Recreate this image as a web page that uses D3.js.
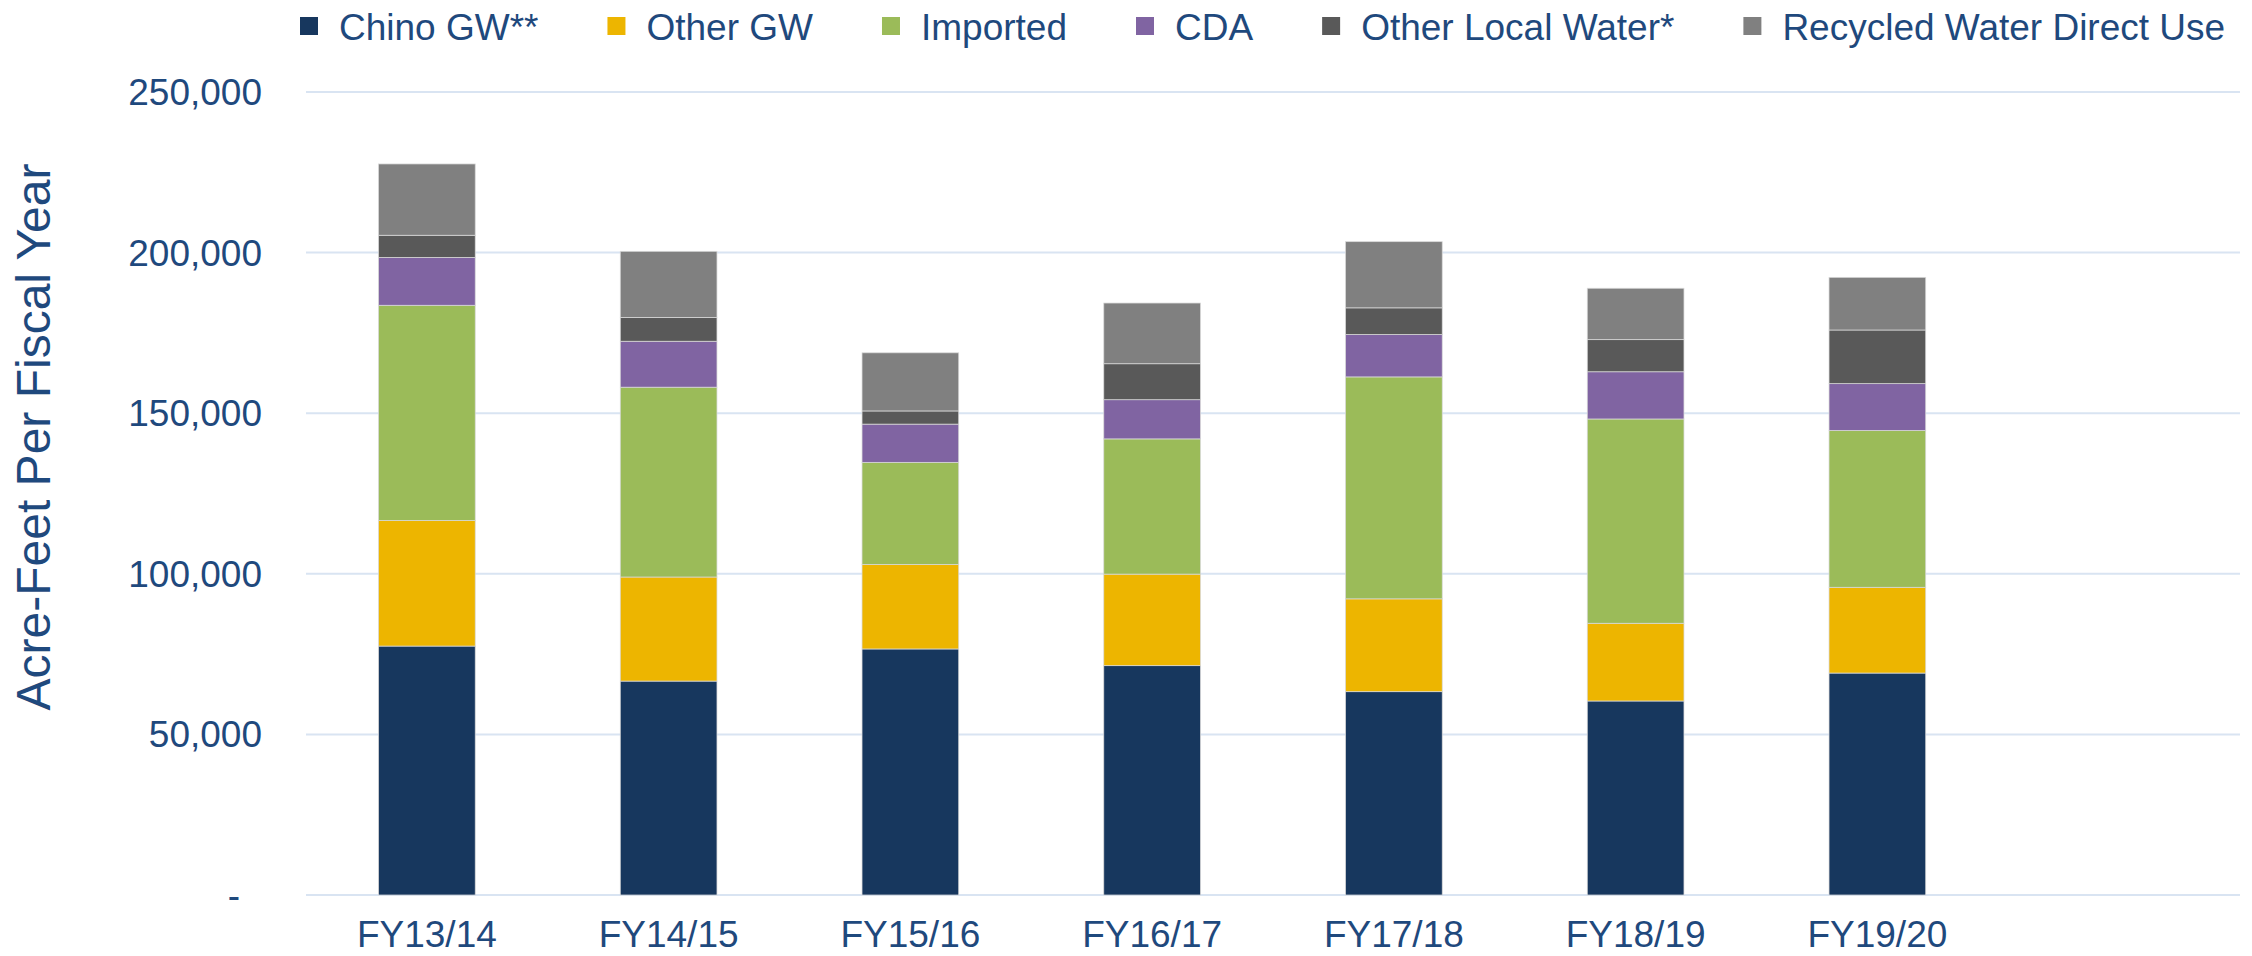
<!DOCTYPE html>
<html>
<head>
<meta charset="utf-8">
<script src="https://cdn.jsdelivr.net/npm/d3@7"></script>
<style>
  html, body { margin: 0; padding: 0; background: #ffffff; }
  svg { display: block; font-family: Arial, "Liberation Sans", sans-serif; }
</style>
</head>
<body>
<svg id="chart" width="2252" height="956"></svg>
<script>
// ---- Data ----
const categories = ["FY13/14", "FY14/15", "FY15/16", "FY16/17", "FY17/18", "FY18/19", "FY19/20"];
const seriesNames = ["Chino GW**", "Other GW", "Imported", "CDA", "Other Local Water*", "Recycled Water Direct Use"];
const seriesColors = ["#17375E", "#EDB500", "#9BBB59", "#8064A2", "#595959", "#808080"];
const chinoGW    = [77500, 66600, 76600, 71400, 63300, 60400, 69100];
const otherGW    = [39100, 32400, 26300, 28500, 28900, 24200, 26700];
const imported   = [67000, 59100, 31800, 42100, 69100, 63600, 48800];
const cda        = [14900, 14300, 11900, 12200, 13200, 14700, 14600];
const otherLocal = [6900, 7400, 4100, 11200, 8300, 10000, 16700];
const recycled   = [22200, 20600, 18100, 18900, 20600, 16000, 16400];
const yTicks = [0, 50000, 100000, 150000, 200000, 250000];
const yTitle = "Acre-Feet Per Fiscal Year";

const seriesValues = [chinoGW, otherGW, imported, cda, otherLocal, recycled];
const rows = categories.map((c, i) => {
  const r = { category: c };
  seriesNames.forEach((s, j) => { r[s] = seriesValues[j][i]; });
  return r;
});

// ---- Layout ----
const textColor = "#1F497D";
const gridColor = "#D9E4F2";
const plotLeft = 306, plotRight = 2240, plotTop = 92, plotBottom = 895;
const svg = d3.select("#chart");

const x = d3.scaleBand()
  .domain(categories)
  .range([plotLeft, plotLeft + 7 * 241.75])
  .paddingInner(0.6)
  .paddingOuter(0.3);

const y = d3.scaleLinear().domain([0, 250000]).range([plotBottom, plotTop]);

// gridlines
svg.append("g").selectAll("line").data(yTicks).join("line")
  .attr("x1", plotLeft).attr("x2", plotRight)
  .attr("y1", d => y(d)).attr("y2", d => y(d))
  .attr("stroke", gridColor).attr("stroke-width", 2);

// y axis labels
const fmt = d3.format(",");
svg.append("g").selectAll("text").data(yTicks).join("text")
  .attr("x", d => d === 0 ? 240 : 262)
  .attr("y", d => y(d))
  .attr("dy", "0.35em")
  .attr("text-anchor", "end")
  .attr("fill", textColor)
  .attr("font-size", 37)
  .text(d => d === 0 ? "-" : fmt(d));

// y title
svg.append("text")
  .attr("transform", `translate(50,437) rotate(-90)`)
  .attr("text-anchor", "middle")
  .attr("fill", textColor)
  .attr("font-size", 48)
  .text(yTitle);

// stacked bars
const stack = d3.stack().keys(seriesNames);
const stacked = stack(rows);
const color = d3.scaleOrdinal().domain(seriesNames).range(seriesColors);

svg.append("g").selectAll("g").data(stacked).join("g")
  .attr("fill", d => color(d.key))
  .selectAll("rect").data(d => d).join("rect")
  .attr("x", d => x(d.data.category))
  .attr("width", x.bandwidth())
  .attr("y", d => y(d[1]))
  .attr("height", d => y(d[0]) - y(d[1]))
  .attr("stroke", "#D9D9D9")
  .attr("stroke-width", 0.75);

// x labels
svg.append("g").selectAll("text").data(categories).join("text")
  .attr("x", d => x(d) + x.bandwidth() / 2)
  .attr("y", 947)
  .attr("text-anchor", "middle")
  .attr("fill", textColor)
  .attr("font-size", 37)
  .text(d => d);

// legend
const legend = svg.append("g");
let lx = 300;
seriesNames.forEach((s, i) => {
  legend.append("rect")
    .attr("x", lx).attr("y", 17)
    .attr("width", 18).attr("height", 18)
    .attr("fill", seriesColors[i]);
  const t = legend.append("text")
    .attr("x", lx + 39).attr("y", 39.5)
    .attr("fill", textColor)
    .attr("font-size", 37)
    .text(s);
  const w = t.node().getComputedTextLength();
  lx = lx + 39 + w + 69;
});
</script>
</body>
</html>
